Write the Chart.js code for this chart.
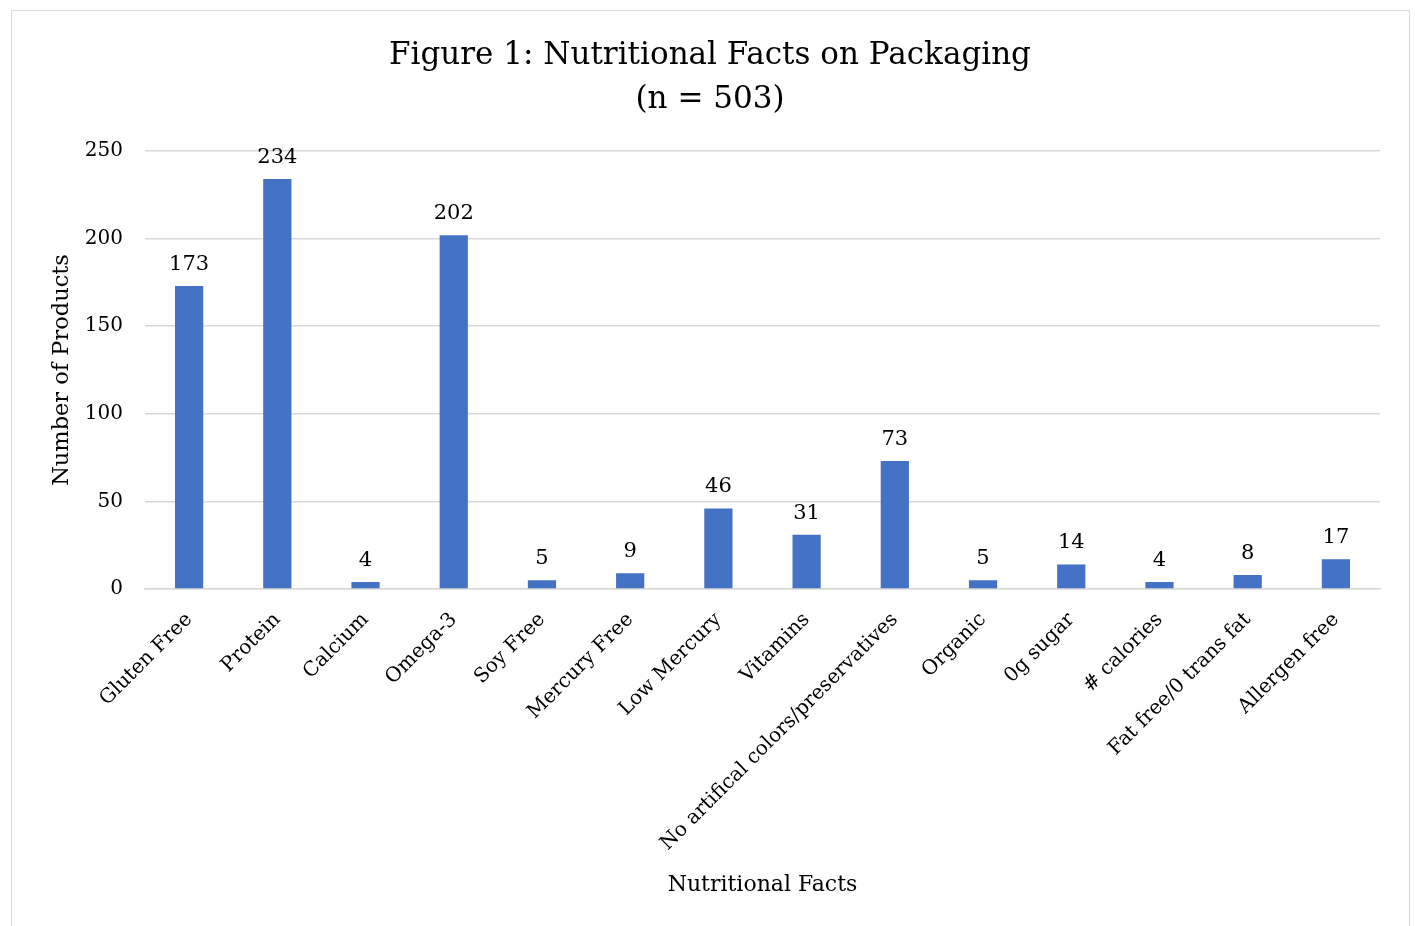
<!DOCTYPE html>
<html>
<head>
<meta charset="utf-8">
<script src="https://cdn.jsdelivr.net/npm/chart.js@4"></script>
<style>
  body { margin: 0; background: #fff; }
  #wrap { position: relative; width: 1415px; height: 926px; overflow: hidden; }
  #frame { position: absolute; left: 11px; top: 10px; width: 1397px; height: 940px;
           border: 1.5px solid #d9d9d9; pointer-events: none; }
  canvas { position: absolute; left: 0; top: 0; }
</style>
</head>
<body>
<div id="wrap">
  <canvas id="factsChart" width="1415" height="926"></canvas>
  <div id="frame"></div>
</div>
<script>
// chart data
const categories = ['Gluten Free', 'Protein', 'Calcium', 'Omega-3', 'Soy Free', 'Mercury Free',
    'Low Mercury', 'Vitamins', 'No artifical colors/preservatives', 'Organic', '0g sugar',
    '# calories', 'Fat free/0 trans fat', 'Allergen free'];
const productCounts = [173, 234, 4, 202, 5, 9, 46, 31, 73, 5, 14, 4, 8, 17];
const yTicks = [0, 50, 100, 150, 200, 250];

const FONT = "'DejaVu Serif', serif";

// draws the value above each bar
const barValues = {
    id: 'barValues',
    afterDatasetsDraw(chart) {
        const ctx = chart.ctx;
        const meta = chart.getDatasetMeta(0);
        ctx.save();
        ctx.font = '21px ' + FONT;
        ctx.fillStyle = '#000';
        ctx.textAlign = 'center';
        ctx.textBaseline = 'bottom';
        meta.data.forEach((bar, i) => {
            ctx.fillText(String(productCounts[i]), bar.x, bar.y - 11);
        });
        ctx.restore();
    }
};

const ctx = document.getElementById('factsChart').getContext('2d');
const chart = new Chart(ctx, {
    type: 'bar',
    data: {
        labels: categories,
        datasets: [{
            data: productCounts,
            backgroundColor: '#4472C4',
            categoryPercentage: 1,
            barPercentage: 0.32
        }]
    },
    options: {
        responsive: false,
        animation: false,
        layout: { padding: { left: 40, right: 35, top: 20, bottom: 24 } },
        plugins: {
            legend: { display: false },
            tooltip: { enabled: false },
            title: {
                display: true,
                text: ['Figure 1: Nutritional Facts on Packaging', '(n = 503)'],
                color: '#000',
                font: { family: FONT, size: 31, weight: 'normal', lineHeight: 1.42 },
                padding: { top: 14, bottom: 29 }
            }
        },
        scales: {
            x: {
                grid: { display: false },
                border: { display: true, color: '#d9d9d9', width: 1.5 },
                ticks: {
                    color: '#000',
                    font: { family: FONT, size: 20 },
                    minRotation: 45,
                    maxRotation: 45,
                    autoSkip: false,
                    padding: 11
                },
                title: {
                    display: true,
                    text: 'Nutritional Facts',
                    color: '#000',
                    font: { family: FONT, size: 22 },
                    padding: { top: 0, bottom: 4 }
                },
                afterFit: (scale) => { scale.height = 313; }
            },
            y: {
                min: 0,
                max: 250,
                afterBuildTicks: (scale) => { scale.ticks = yTicks.map(v => ({ value: v })); },
                grid: { color: '#d9d9d9', lineWidth: 1.5, drawTicks: false },
                border: { display: false },
                ticks: {
                    color: '#000',
                    font: { family: FONT, size: 20 },
                    padding: 22
                },
                title: {
                    display: true,
                    text: 'Number of Products',
                    color: '#000',
                    font: { family: FONT, size: 22.5 },
                    padding: { top: 9, bottom: 0 }
                },
                afterFit: (scale) => { scale.width = 105; }
            }
        }
    },
    plugins: [barValues]
});
</script>
</body>
</html>
